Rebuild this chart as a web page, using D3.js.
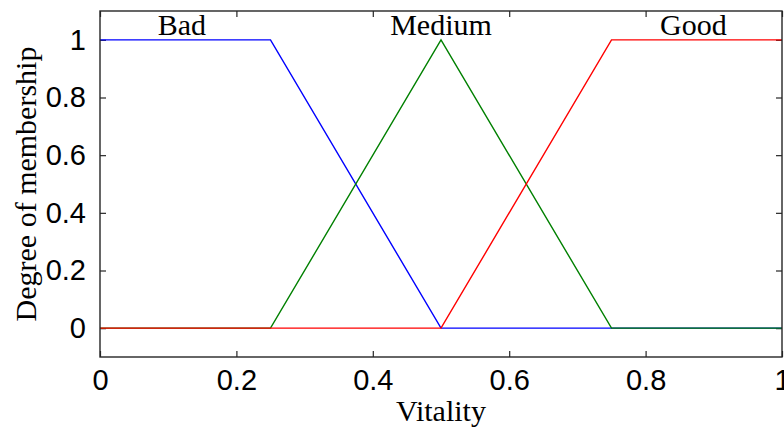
<!DOCTYPE html>
<html>
<head>
<meta charset="utf-8">
<script src="https://cdn.jsdelivr.net/npm/d3@7"></script>
<style>
  html, body { margin: 0; padding: 0; background: #fff; }
  svg { display: block; }
  .tick text { font-family: "Liberation Sans", Arial, sans-serif; font-size: 29px; fill: #000; }
  .tick line { stroke: #262626; stroke-width: 1.2; }
  .label { font-family: "Liberation Serif", "Times New Roman", serif; font-size: 30px; fill: #000; }
  .mf { fill: none; stroke-width: 1.4; }
</style>
</head>
<body>
<script>
// membership functions, sampled at their breakpoints
const bad_x = [0, 0.25, 0.5, 1];
const bad_y = [1, 1, 0, 0];
const medium_x = [0, 0.25, 0.5, 0.75, 1];
const medium_y = [0, 0, 1, 0, 0];
const good_x = [0, 0.5, 0.75, 1];
const good_y = [0, 0, 1, 1];

const mf_names = ['Bad', 'Medium', 'Good'];
const mf_label_x = [0.12, 0.5, 0.87];
const mf_colors = ['#0000ff', '#008000', '#ff0000'];

const x_ticks = [0, 0.2, 0.4, 0.6, 0.8, 1];
const y_ticks = [0, 0.2, 0.4, 0.6, 0.8, 1];

const W = 784, H = 430;
const m = { left: 100, right: 2, top: 11, bottom: 73 };
const width = W - m.left - m.right;
const height = H - m.top - m.bottom;

const svg = d3.select('body').append('svg')
  .attr('width', W)
  .attr('height', H);
const g = svg.append('g')
  .attr('transform', `translate(${[m.left, m.top]})`);

const x = d3.scaleLinear().domain([0, 1]).range([0, width]);
const y = d3.scaleLinear().domain([-0.1, 1.1]).range([height, 0]);

const fmt = d => String(+d.toFixed(1));

// MATLAB-style box: ticks point inwards on all four sides
g.append('g')
  .attr('transform', `translate(0,${height})`)
  .call(d3.axisBottom(x).tickValues(x_ticks).tickSize(-6).tickSizeOuter(0).tickPadding(12).tickFormat(fmt))
  .call(a => a.select('.domain').remove());
g.append('g')
  .call(d3.axisTop(x).tickValues(x_ticks).tickSize(-6).tickSizeOuter(0).tickFormat(''))
  .call(a => a.select('.domain').remove());
g.append('g')
  .call(d3.axisLeft(y).tickValues(y_ticks).tickSize(-6).tickSizeOuter(0).tickPadding(14).tickFormat(fmt))
  .call(a => a.select('.domain').remove());
g.append('g')
  .attr('transform', `translate(${width},0)`)
  .call(d3.axisRight(y).tickValues(y_ticks).tickSize(-6).tickSizeOuter(0).tickFormat(''))
  .call(a => a.select('.domain').remove());

const series = [
  bad_x.map((v, i) => [v, bad_y[i]]),
  medium_x.map((v, i) => [v, medium_y[i]]),
  good_x.map((v, i) => [v, good_y[i]]),
];
const line = d3.line().x(d => x(d[0])).y(d => y(d[1]));

g.selectAll('path.mf').data(series).join('path')
  .attr('class', 'mf')
  .attr('stroke', (d, i) => mf_colors[i])
  .attr('d', line);

g.selectAll('text.mflabel').data(mf_names).join('text')
  .attr('class', 'label mflabel')
  .attr('text-anchor', 'middle')
  .attr('x', (d, i) => x(mf_label_x[i]))
  .attr('y', y(1) - 5)
  .text(d => d);

// frame
g.append('rect')
  .attr('width', width)
  .attr('height', height)
  .attr('fill', 'none')
  .attr('stroke', '#262626')
  .attr('stroke-width', 1.4);

svg.append('text')
  .attr('class', 'label')
  .attr('text-anchor', 'middle')
  .attr('x', m.left + width / 2)
  .attr('y', 421)
  .text('Vitality');

svg.append('text')
  .attr('class', 'label')
  .attr('text-anchor', 'middle')
  .attr('transform', `translate(${[36, m.top + height / 2]}) rotate(-90)`)
  .text('Degree of membership');
</script>
</body>
</html>
